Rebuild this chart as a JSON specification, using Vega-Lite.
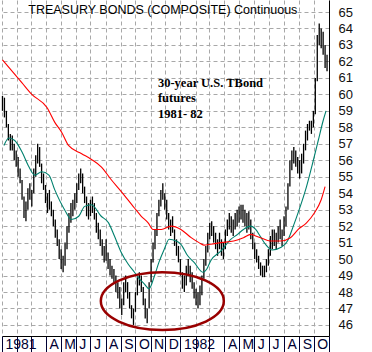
{
  "$schema": "https://vega.github.io/schema/vega-lite/v6.json",
  "width": 327,
  "height": 336,
  "padding": 0,
  "background": "white",
  "config": {
    "view": {"stroke": null},
    "axisX": {
      "title": null,
      "tickCount": {"interval": "month", "step": 1},
      "grid": true, "gridColor": "#a8a8a8", "gridDash": [4, 3], "gridWidth": 1,
      "domainColor": "black", "domainWidth": 1,
      "ticks": true, "tickColor": "#000033", "tickSize": 16, "tickWidth": 1,
      "labelExpr": "datum.value >= datetime(1982, 9, 20) ? '' : (month(datum.value) == 0 ? '' + year(datum.value) : (month(datum.value) <= 2 ? '' : substring(timeFormat(datum.value, '%b'), 0, 1)))",
      "labelAlign": "left", "labelBaseline": "top", "labelPadding": -15, "labelOffset": 3,
      "labelFont": "Liberation Sans", "labelFontSize": 14, "labelColor": "#000033",
      "labelOverlap": false, "labelBound": false, "labelFlush": false
    },
    "axisY": {
      "title": null,
      "grid": true, "gridColor": "#a8a8a8", "gridDash": [4, 3], "gridWidth": 1,
      "domainColor": "black", "domainWidth": 1,
      "ticks": false,
      "labelPadding": 9, "labelFont": "Liberation Sans", "labelFontSize": 13, "labelColor": "#111",
      "labelOverlap": false, "labelBound": false, "labelFlush": false
    }
  },
  "datasets": {
    "prices": [
      {"d":"1981-01-02","lo":59.0,"hi":59.9},{"d":"1981-01-06","lo":58.6,"hi":59.8},{"d":"1981-01-10","lo":58.0,"hi":59.0},{"d":"1981-01-14","lo":57.2,"hi":58.2},{"d":"1981-01-18","lo":56.6,"hi":57.6},{"d":"1981-01-22","lo":56.6,"hi":57.5},{"d":"1981-01-26","lo":56.0,"hi":57.0},{"d":"1981-01-30","lo":55.6,"hi":56.6},
      {"d":"1981-02-03","lo":55.0,"hi":56.2},{"d":"1981-02-07","lo":54.6,"hi":55.5},{"d":"1981-02-11","lo":53.6,"hi":54.8},{"d":"1981-02-15","lo":52.5,"hi":53.8},{"d":"1981-02-19","lo":52.3,"hi":53.5},{"d":"1981-02-23","lo":53.0,"hi":54.3},{"d":"1981-02-27","lo":53.6,"hi":54.6},
      {"d":"1981-03-03","lo":53.2,"hi":54.2},{"d":"1981-03-07","lo":54.0,"hi":55.5},{"d":"1981-03-11","lo":55.0,"hi":56.3},{"d":"1981-03-15","lo":55.8,"hi":57.0},{"d":"1981-03-19","lo":55.6,"hi":56.8},{"d":"1981-03-23","lo":54.6,"hi":55.8},{"d":"1981-03-27","lo":54.2,"hi":55.2},{"d":"1981-03-31","lo":53.4,"hi":54.5},
      {"d":"1981-04-04","lo":52.8,"hi":54.0},{"d":"1981-04-08","lo":53.0,"hi":54.2},{"d":"1981-04-12","lo":52.6,"hi":53.5},{"d":"1981-04-16","lo":52.0,"hi":53.0},{"d":"1981-04-20","lo":51.3,"hi":52.4},{"d":"1981-04-24","lo":50.8,"hi":51.8},{"d":"1981-04-28","lo":50.0,"hi":51.2},
      {"d":"1981-05-02","lo":49.4,"hi":50.6},{"d":"1981-05-06","lo":49.2,"hi":50.2},{"d":"1981-05-10","lo":49.6,"hi":51.0},{"d":"1981-05-14","lo":50.6,"hi":52.0},{"d":"1981-05-18","lo":51.6,"hi":52.8},{"d":"1981-05-22","lo":52.2,"hi":53.4},{"d":"1981-05-26","lo":52.6,"hi":53.6},{"d":"1981-05-30","lo":53.0,"hi":54.0},
      {"d":"1981-06-03","lo":53.4,"hi":54.6},{"d":"1981-06-07","lo":54.2,"hi":55.2},{"d":"1981-06-11","lo":54.6,"hi":55.5},{"d":"1981-06-15","lo":54.0,"hi":55.2},{"d":"1981-06-19","lo":53.4,"hi":54.4},{"d":"1981-06-23","lo":52.6,"hi":53.8},{"d":"1981-06-27","lo":52.4,"hi":53.4},
      {"d":"1981-07-01","lo":52.6,"hi":53.6},{"d":"1981-07-05","lo":52.8,"hi":53.8},{"d":"1981-07-09","lo":52.4,"hi":53.4},{"d":"1981-07-13","lo":51.6,"hi":52.8},{"d":"1981-07-17","lo":51.2,"hi":52.2},{"d":"1981-07-21","lo":50.8,"hi":51.8},{"d":"1981-07-25","lo":50.2,"hi":51.2},{"d":"1981-07-29","lo":49.8,"hi":50.8},
      {"d":"1981-08-02","lo":49.9,"hi":51.2},{"d":"1981-08-06","lo":49.4,"hi":50.4},{"d":"1981-08-10","lo":49.0,"hi":50.0},{"d":"1981-08-14","lo":48.8,"hi":49.6},{"d":"1981-08-18","lo":48.6,"hi":49.4},{"d":"1981-08-22","lo":48.0,"hi":49.0},{"d":"1981-08-26","lo":47.6,"hi":48.6},{"d":"1981-08-30","lo":47.0,"hi":48.3},
      {"d":"1981-09-03","lo":46.6,"hi":47.6},{"d":"1981-09-07","lo":47.2,"hi":48.6},{"d":"1981-09-11","lo":48.0,"hi":49.0},{"d":"1981-09-15","lo":47.6,"hi":48.6},{"d":"1981-09-19","lo":47.0,"hi":48.0},{"d":"1981-09-23","lo":46.4,"hi":47.2},{"d":"1981-09-27","lo":46.0,"hi":47.0},
      {"d":"1981-10-01","lo":46.8,"hi":48.0},{"d":"1981-10-05","lo":47.8,"hi":48.9},{"d":"1981-10-09","lo":48.4,"hi":49.2},{"d":"1981-10-13","lo":48.0,"hi":49.0},{"d":"1981-10-17","lo":47.2,"hi":48.3},{"d":"1981-10-21","lo":46.4,"hi":47.6},{"d":"1981-10-25","lo":46.1,"hi":47.0},{"d":"1981-10-29","lo":47.0,"hi":48.6},
      {"d":"1981-11-02","lo":48.6,"hi":50.0},{"d":"1981-11-06","lo":49.8,"hi":51.0},{"d":"1981-11-10","lo":50.6,"hi":51.8},{"d":"1981-11-14","lo":51.4,"hi":52.8},{"d":"1981-11-18","lo":52.6,"hi":53.6},{"d":"1981-11-22","lo":53.2,"hi":54.2},{"d":"1981-11-26","lo":53.6,"hi":54.6},{"d":"1981-11-30","lo":53.0,"hi":54.0},
      {"d":"1981-12-04","lo":52.4,"hi":53.6},{"d":"1981-12-08","lo":51.8,"hi":52.8},{"d":"1981-12-12","lo":51.4,"hi":52.4},{"d":"1981-12-16","lo":51.6,"hi":52.6},{"d":"1981-12-20","lo":50.8,"hi":51.8},{"d":"1981-12-24","lo":50.2,"hi":51.2},{"d":"1981-12-28","lo":49.8,"hi":50.8},
      {"d":"1982-01-01","lo":49.0,"hi":50.0},{"d":"1982-01-05","lo":48.2,"hi":49.2},{"d":"1982-01-09","lo":48.0,"hi":49.0},{"d":"1982-01-13","lo":48.4,"hi":49.6},{"d":"1982-01-17","lo":49.0,"hi":50.0},{"d":"1982-01-21","lo":48.6,"hi":49.6},{"d":"1982-01-25","lo":48.2,"hi":49.2},{"d":"1982-01-29","lo":47.6,"hi":48.6},
      {"d":"1982-02-02","lo":47.2,"hi":48.2},{"d":"1982-02-06","lo":47.0,"hi":48.0},{"d":"1982-02-10","lo":47.2,"hi":48.4},{"d":"1982-02-14","lo":47.8,"hi":49.0},{"d":"1982-02-18","lo":48.8,"hi":50.0},{"d":"1982-02-22","lo":49.6,"hi":50.8},{"d":"1982-02-26","lo":50.4,"hi":51.6},
      {"d":"1982-03-02","lo":51.2,"hi":52.2},{"d":"1982-03-06","lo":51.4,"hi":52.3},{"d":"1982-03-10","lo":51.0,"hi":52.0},{"d":"1982-03-14","lo":50.6,"hi":51.6},{"d":"1982-03-18","lo":50.2,"hi":51.2},{"d":"1982-03-22","lo":50.6,"hi":51.6},{"d":"1982-03-26","lo":50.2,"hi":51.2},{"d":"1982-03-30","lo":50.0,"hi":51.0},
      {"d":"1982-04-03","lo":50.6,"hi":51.8},{"d":"1982-04-07","lo":51.4,"hi":52.4},{"d":"1982-04-11","lo":51.8,"hi":52.8},{"d":"1982-04-15","lo":51.6,"hi":52.6},{"d":"1982-04-19","lo":51.4,"hi":52.4},{"d":"1982-04-23","lo":51.8,"hi":52.8},{"d":"1982-04-27","lo":52.0,"hi":53.0},
      {"d":"1982-05-01","lo":52.2,"hi":53.2},{"d":"1982-05-05","lo":52.4,"hi":53.3},{"d":"1982-05-09","lo":52.2,"hi":53.3},{"d":"1982-05-13","lo":52.0,"hi":53.0},{"d":"1982-05-17","lo":51.6,"hi":52.8},{"d":"1982-05-21","lo":51.8,"hi":52.9},{"d":"1982-05-25","lo":51.2,"hi":52.4},{"d":"1982-05-29","lo":50.6,"hi":51.6},
      {"d":"1982-06-02","lo":50.0,"hi":51.0},{"d":"1982-06-06","lo":49.8,"hi":50.6},{"d":"1982-06-10","lo":49.4,"hi":50.2},{"d":"1982-06-14","lo":49.0,"hi":49.8},{"d":"1982-06-18","lo":48.9,"hi":49.6},{"d":"1982-06-22","lo":48.9,"hi":49.6},{"d":"1982-06-26","lo":49.2,"hi":50.0},{"d":"1982-06-30","lo":49.6,"hi":50.6},
      {"d":"1982-07-04","lo":50.2,"hi":51.4},{"d":"1982-07-08","lo":50.6,"hi":51.8},{"d":"1982-07-12","lo":50.8,"hi":51.8},{"d":"1982-07-16","lo":50.6,"hi":51.6},{"d":"1982-07-20","lo":51.0,"hi":52.0},{"d":"1982-07-24","lo":51.2,"hi":52.4},{"d":"1982-07-28","lo":50.8,"hi":51.8},
      {"d":"1982-08-01","lo":51.4,"hi":52.6},{"d":"1982-08-05","lo":52.0,"hi":53.2},{"d":"1982-08-09","lo":53.0,"hi":54.6},{"d":"1982-08-13","lo":54.4,"hi":56.0},{"d":"1982-08-17","lo":55.4,"hi":56.6},{"d":"1982-08-21","lo":55.8,"hi":56.8},{"d":"1982-08-25","lo":55.6,"hi":56.6},{"d":"1982-08-29","lo":55.2,"hi":56.2},
      {"d":"1982-09-02","lo":54.9,"hi":56.0},{"d":"1982-09-06","lo":55.2,"hi":56.4},{"d":"1982-09-10","lo":55.8,"hi":57.0},{"d":"1982-09-14","lo":56.6,"hi":57.8},{"d":"1982-09-18","lo":57.2,"hi":58.2},{"d":"1982-09-22","lo":57.8,"hi":58.4},{"d":"1982-09-26","lo":57.6,"hi":58.4},{"d":"1982-09-30","lo":58.0,"hi":59.0},
      {"d":"1982-10-04","lo":58.8,"hi":61.0},{"d":"1982-10-08","lo":60.8,"hi":63.6},{"d":"1982-10-12","lo":63.0,"hi":64.3},{"d":"1982-10-16","lo":62.8,"hi":64.0},{"d":"1982-10-20","lo":62.4,"hi":63.8},{"d":"1982-10-24","lo":61.6,"hi":63.0},{"d":"1982-10-28","lo":61.4,"hi":62.4}
    ],
    "teal": [
      {"d":"1981-01-05","v":56.9},{"d":"1981-01-15","v":57.35},{"d":"1981-01-27","v":57.2},{"d":"1981-02-11","v":56.5},{"d":"1981-02-25","v":55.6},{"d":"1981-03-09","v":55.1},{"d":"1981-03-23","v":55.3},{"d":"1981-04-07","v":55.1},{"d":"1981-04-19","v":54.2},{"d":"1981-05-09","v":53.0},{"d":"1981-05-23","v":52.4},{"d":"1981-06-07","v":52.6},{"d":"1981-06-19","v":53.2},{"d":"1981-07-03","v":53.3},{"d":"1981-07-23","v":52.6},{"d":"1981-08-07","v":52.2},{"d":"1981-08-19","v":51.4},{"d":"1981-09-02","v":50.4},{"d":"1981-09-16","v":49.7},{"d":"1981-09-29","v":49.2},{"d":"1981-10-09","v":48.8},{"d":"1981-10-19","v":48.5},{"d":"1981-10-29","v":48.2},{"d":"1981-11-08","v":48.9},{"d":"1981-11-18","v":49.8},{"d":"1981-11-29","v":50.6},{"d":"1981-12-09","v":51.2},{"d":"1981-12-23","v":51.1},{"d":"1982-01-02","v":50.9},{"d":"1982-01-16","v":50.2},{"d":"1982-01-29","v":49.8},{"d":"1982-02-16","v":49.2},{"d":"1982-02-24","v":49.4},{"d":"1982-03-04","v":49.9},{"d":"1982-03-25","v":50.5},{"d":"1982-04-14","v":51.2},{"d":"1982-04-28","v":51.5},{"d":"1982-05-10","v":51.8},{"d":"1982-05-25","v":52.0},{"d":"1982-06-04","v":51.8},{"d":"1982-06-14","v":51.35},{"d":"1982-06-24","v":50.9},{"d":"1982-07-08","v":50.55},{"d":"1982-07-25","v":50.7},{"d":"1982-08-08","v":51.1},{"d":"1982-08-20","v":52.0},{"d":"1982-09-01","v":53.0},{"d":"1982-09-16","v":54.4},{"d":"1982-09-30","v":56.0},{"d":"1982-10-10","v":57.2},{"d":"1982-10-20","v":58.4},{"d":"1982-10-26","v":59.0}
    ],
    "red": [
      {"d":"1981-01-02","v":62.1},{"d":"1981-02-11","v":60.7},{"d":"1981-03-03","v":60.0},{"d":"1981-04-03","v":59.2},{"d":"1981-04-19","v":58.3},{"d":"1981-05-03","v":57.7},{"d":"1981-05-17","v":56.9},{"d":"1981-06-13","v":56.4},{"d":"1981-07-03","v":56.05},{"d":"1981-07-23","v":55.6},{"d":"1981-08-13","v":54.8},{"d":"1981-09-02","v":54.1},{"d":"1981-09-29","v":53.1},{"d":"1981-10-13","v":52.6},{"d":"1981-10-27","v":52.2},{"d":"1981-11-06","v":51.8},{"d":"1981-11-23","v":51.8},{"d":"1981-12-13","v":52.0},{"d":"1982-01-02","v":51.8},{"d":"1982-01-23","v":51.3},{"d":"1982-02-08","v":51.0},{"d":"1982-02-18","v":50.85},{"d":"1982-03-04","v":50.9},{"d":"1982-03-25","v":51.0},{"d":"1982-04-20","v":51.1},{"d":"1982-05-10","v":51.3},{"d":"1982-05-25","v":51.5},{"d":"1982-06-04","v":51.4},{"d":"1982-06-14","v":51.3},{"d":"1982-07-04","v":51.1},{"d":"1982-07-25","v":51.1},{"d":"1982-08-14","v":51.3},{"d":"1982-08-30","v":51.8},{"d":"1982-09-16","v":52.2},{"d":"1982-10-02","v":52.8},{"d":"1982-10-16","v":53.6},{"d":"1982-10-24","v":54.4}
    ]
  },
  "layer": [
    {
      "data": {"name": "prices"},
      "mark": {"type": "rule", "color": "black", "strokeWidth": 1.3},
      "encoding": {
        "x": {
          "field": "d", "type": "temporal",
          "scale": {"domain": [{"year": 1981, "month": 1, "date": 1}, {"year": 1982, "month": 11, "date": 1}], "nice": false},
          "axis": {"orient": "bottom"}
        },
        "y": {
          "field": "lo", "type": "quantitative",
          "scale": {"domain": [45.33, 65.73], "nice": false, "zero": false},
          "axis": {"orient": "right", "values": [46,47,48,49,50,51,52,53,54,55,56,57,58,59,60,61,62,63,64,65]}
        },
        "y2": {"field": "hi"}
      }
    },
    {
      "data": {"name": "teal"},
      "mark": {"type": "line", "color": "#00806e", "strokeWidth": 1.1, "interpolate": "monotone"},
      "encoding": {
        "x": {"field": "d", "type": "temporal", "axis": {"orient": "bottom"}},
        "y": {"field": "v", "type": "quantitative", "axis": {"orient": "right", "values": [46,47,48,49,50,51,52,53,54,55,56,57,58,59,60,61,62,63,64,65]}}
      }
    },
    {
      "data": {"name": "red"},
      "mark": {"type": "line", "color": "#ff0000", "strokeWidth": 1.1, "interpolate": "monotone"},
      "encoding": {
        "x": {"field": "d", "type": "temporal", "axis": {"orient": "bottom"}},
        "y": {"field": "v", "type": "quantitative", "axis": {"orient": "right", "values": [46,47,48,49,50,51,52,53,54,55,56,57,58,59,60,61,62,63,64,65]}}
      }
    },
    {
      "data": {"values": [{"note": "ellipse"}]},
      "mark": {
        "type": "point",
        "shape": "M -1 0 C -1 -0.26 -0.552 -0.47 0 -0.47 C 0.552 -0.47 1 -0.26 1 0 C 1 0.26 0.552 0.47 0 0.47 C -0.552 0.47 -1 0.26 -1 0 Z",
        "size": 15129, "filled": false, "stroke": "#990000", "strokeWidth": 2.5, "opacity": 1
      },
      "encoding": {
        "x": {"datum": {"year": 1981, "month": 11, "date": 25}, "type": "temporal", "axis": {"orient": "bottom"}},
        "y": {"datum": 47.45, "type": "quantitative", "axis": {"orient": "right", "values": [46,47,48,49,50,51,52,53,54,55,56,57,58,59,60,61,62,63,64,65]}}
      }
    },
    {
      "data": {"values": [{"label": "TREASURY BONDS (COMPOSITE) Continuous"}]},
      "mark": {"type": "text", "font": "Liberation Sans", "fontSize": 12.5, "color": "black", "align": "center", "baseline": "middle"},
      "encoding": {
        "text": {"field": "label"},
        "x": {"datum": {"year": 1981, "month": 11, "date": 26}, "type": "temporal", "axis": {"orient": "bottom"}},
        "y": {"datum": 65.12, "type": "quantitative", "axis": {"orient": "right", "values": [46,47,48,49,50,51,52,53,54,55,56,57,58,59,60,61,62,63,64,65]}}
      }
    },
    {
      "data": {"values": [{"label": "30-year U.S. TBond\nfutures\n1981- 82"}]},
      "mark": {"type": "text", "font": "Liberation Serif", "fontSize": 12.5, "fontWeight": "bold", "color": "black", "align": "left", "baseline": "alphabetic", "lineBreak": "\n", "lineHeight": 15.5},
      "encoding": {
        "text": {"field": "label"},
        "x": {"datum": {"year": 1981, "month": 11, "date": 16}, "type": "temporal", "axis": {"orient": "bottom"}},
        "y": {"datum": 60.45, "type": "quantitative", "axis": {"orient": "right", "values": [46,47,48,49,50,51,52,53,54,55,56,57,58,59,60,61,62,63,64,65]}}
      }
    }
  ]
}
